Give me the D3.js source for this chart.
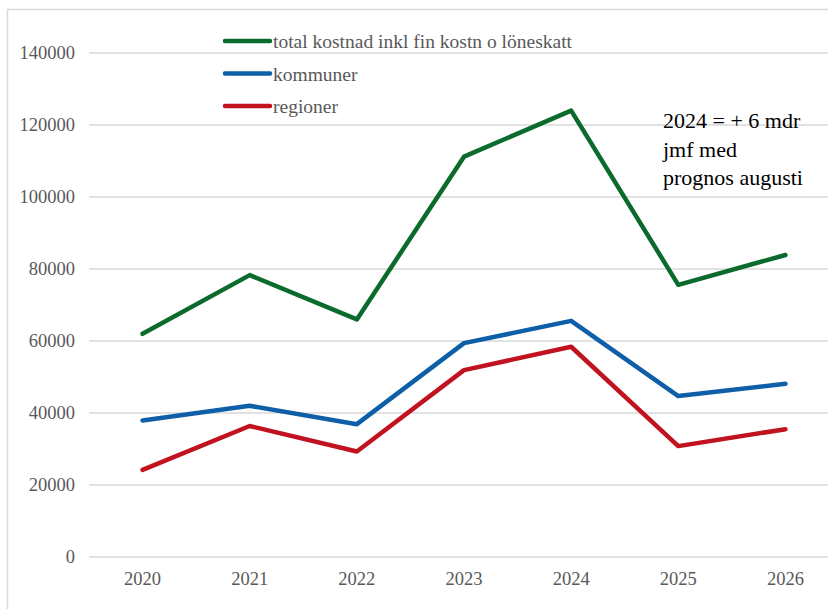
<!DOCTYPE html>
<html>
<head>
<meta charset="utf-8">
<script src="https://cdn.jsdelivr.net/npm/d3@7"></script>
<style>
  body { margin: 0; background: #fff; }
  svg { display: block; }
</style>
</head>
<body>
<div id="chart"></div>
<script>
const years = ['2020', '2021', '2022', '2023', '2024', '2025', '2026']
const total = [62000, 78300, 66000, 111200, 124000, 75600, 83900]
const kommuner = [37900, 42000, 36900, 59400, 65600, 44700, 48100]
const regioner = [24200, 36400, 29300, 51900, 58400, 30800, 35500]
const yTicks = [0, 20000, 40000, 60000, 80000, 100000, 120000, 140000]
const seriesNames = ['total kostnad inkl fin kostn o löneskatt', 'kommuner', 'regioner']
const noteLines = ['2024 = + 6 mdr', 'jmf med', 'prognos augusti']

const width = 828, height = 609
const margin = { top: 53, right: -11, bottom: 52, left: 89 }
const colors = ['#0a6b2c', '#0f5ea8', '#c1121f']
const font = "'Liberation Serif', 'Times New Roman', 'Liberation Sans', Arial, sans-serif"

const svg = d3.select('#chart')
  .append('svg')
  .attr('width', width)
  .attr('height', height)

// chart frame (only left and top edge visible in the crop)
svg.append('path')
  .attr('d', 'M7.5,' + height + 'V9.5H' + width)
  .attr('fill', 'none')
  .attr('stroke', '#d9d9d9')
  .attr('stroke-width', 1.5)

const x = d3.scaleBand()
  .domain(years)
  .range([margin.left, width - margin.right])
  .padding(0)

const y = d3.scaleLinear()
  .domain([0, 140000])
  .range([height - margin.bottom, margin.top])

// gridlines
svg.append('g')
  .selectAll('line')
  .data(yTicks)
  .enter()
  .append('line')
  .attr('x1', margin.left)
  .attr('x2', width)
  .attr('y1', d => y(d))
  .attr('y2', d => y(d))
  .attr('stroke', '#d9d9d9')
  .attr('stroke-width', 1.5)

// y axis labels
const yAxis = svg.append('g')
  .attr('transform', 'translate(' + (margin.left - 14) + ',0)')
  .call(d3.axisLeft(y).tickValues(yTicks).tickSize(0).tickPadding(0).tickFormat(d => d))
  .attr('font-family', font)
  .attr('font-size', 18.5)
yAxis.select('.domain').remove()
yAxis.selectAll('text').attr('fill', '#595959')

// x axis labels
const xAxis = svg.append('g')
  .attr('transform', 'translate(0,' + (height - margin.bottom + 15) + ')')
  .call(d3.axisBottom(x).tickSize(0).tickPadding(0))
  .attr('font-family', font)
  .attr('font-size', 18.5)
xAxis.select('.domain').remove()
xAxis.selectAll('text').attr('fill', '#595959')

const line = d3.line()
  .x((d, i) => x(years[i]) + x.bandwidth() / 2)
  .y(d => y(d))

const series = [total, kommuner, regioner]
svg.append('g')
  .selectAll('path')
  .data(series)
  .enter()
  .append('path')
  .attr('d', d => line(d))
  .attr('fill', 'none')
  .attr('stroke', (d, i) => colors[i])
  .attr('stroke-width', 4.5)
  .attr('stroke-linejoin', 'round')
  .attr('stroke-linecap', 'round')

// legend
const legend = svg.append('g')
  .selectAll('g')
  .data(seriesNames)
  .enter()
  .append('g')
  .attr('transform', (d, i) => 'translate(225,' + (41 + i * 32.5) + ')')

legend.append('line')
  .attr('x1', 0)
  .attr('x2', 45)
  .attr('stroke', (d, i) => colors[i])
  .attr('stroke-width', 4.5)
  .attr('stroke-linecap', 'round')

legend.append('text')
  .attr('x', 48)
  .attr('y', 7)
  .text(d => d)
  .attr('fill', '#595959')
  .attr('font-family', font)
  .attr('font-size', 19.5)

// annotation
svg.append('text')
  .attr('x', 663)
  .attr('y', 128)
  .attr('font-family', font)
  .attr('font-size', 22)
  .attr('fill', '#000')
  .selectAll('tspan')
  .data(noteLines)
  .enter()
  .append('tspan')
  .attr('x', 663)
  .attr('dy', (d, i) => i === 0 ? 0 : 28.5)
  .text(d => d)
</script>
</body>
</html>
